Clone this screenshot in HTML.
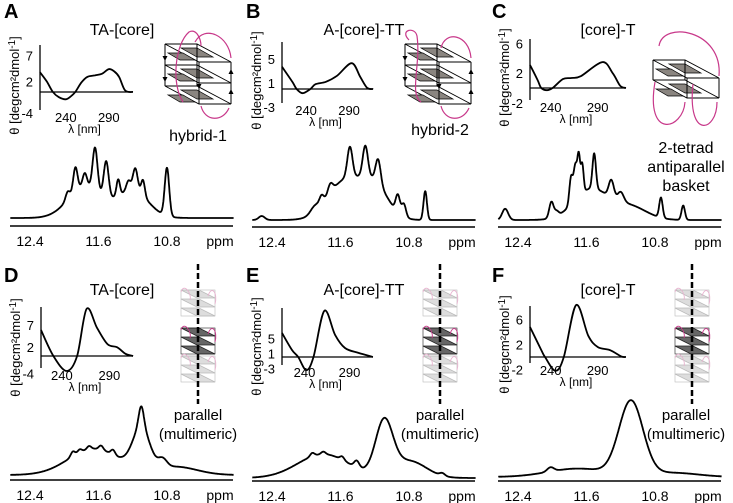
<!DOCTYPE html>
<html><head><meta charset="utf-8"><style>
body{margin:0;background:#fff}
svg{display:block;font-family:"Liberation Sans",Arial,sans-serif}
</style></head><body>
<svg id="fig" width="733" height="503" viewBox="0 0 733 503" xmlns="http://www.w3.org/2000/svg"></svg>
<script>
// ---- CD data (wavelength nm, ellipticity) ----
const cdA_wl = [210,218,225,232,240,246,251,258,265,274,282,290,296,302,309,318];
const cdA_val = [3.8,2,0,-1,-1.4,-0.8,0,1.8,2.9,3.2,3.5,4.4,4,2.9,0.3,0];
const cdB_wl = [212,224,229,236,245,251,263,276,293,303,311,318];
const cdB_val = [3.7,1.2,0,-0.7,0,0.8,1.2,2.2,4.3,2,0.2,0];
const cdC_wl = [218,226,230,236,242,253,262,272,295,306,314,320];
const cdC_val = [3.1,1.1,0,-0.3,0,1.2,1.35,1.6,3.5,2,0.3,0];
const cdD_wl = [218,231,245,256,266,277,288,298,307,315];
const cdD_val = [5.9,0,-3.4,0,10.7,6.4,2.7,2.0,0.5,0];
const cdE_wl = [215,226,233,242,250,262,274,285,300,316];
const cdE_val = [6.4,1.9,0,-3.5,0,12.3,5.9,2.4,1.1,0];
const cdF_wl = [218,230,234,245,254,267,280,290,303,315,320];
const cdF_val = [4.8,1.1,0,-2.2,0,8.3,3.4,1.6,1.1,0.1,0];
// ---- CD tick labels ----
const cdTicksA = [7,2,-4], cdTicksB = [5,1,-3], cdTicksC = [6,2,-2];
const cdTicksD = [7,2,-4], cdTicksE = [5,1,-3], cdTicksF = [6,2,-2];
const cdXTicks = [240,290];
// ---- NMR peaks: [ppm, height, sigma] ----
const nmrA = [[11.75,40,0.2],[11.2,34,0.18],[11.96,10,0.025],[11.87,30,0.025],[11.76,16,0.025],[11.64,52,0.028],[11.51,44,0.028],[11.37,20,0.02],[11.17,28,0.028],[11.08,20,0.022],[10.80,60,0.026],[11.25,12,0.025]];
const nmrB = [[11.55,48,0.2],[11.2,40,0.16],[11.82,10,0.025],[11.72,12,0.03],[11.49,38,0.03],[11.31,38,0.03],[11.16,30,0.03],[10.93,22,0.025],[10.86,16,0.025],[10.61,36,0.02],[12.52,5,0.035],[11.9,8,0.05]];
const nmrC = [[11.55,38,0.2],[11.1,17,0.2],[12.55,14,0.035],[12.01,20,0.025],[11.95,6,0.025],[11.78,34,0.02],[11.73,42,0.02],[11.69,48,0.016],[11.65,36,0.016],[11.51,44,0.02],[11.31,22,0.03],[11.2,12,0.035],[10.73,25,0.02],[10.47,18,0.02]];
const nmrD = [[11.65,32,0.3],[11.1,50,0.1],[11.1,25,0.03],[10.85,10,0.05],[10.7,10,0.25],[11.9,6,0.025],[11.82,4,0.025],[11.71,4,0.025],[11.57,5,0.025],[11.43,6,0.025]];
const nmrE = [[11.8,28,0.3],[11.09,62,0.1],[10.8,20,0.2],[11.41,8,0.03],[11.58,4,0.025],[11.8,3,0.025],[11.93,4,0.025],[10.41,3,0.03]];
const nmrF = [[11.08,88,0.14],[11.7,10,0.35],[12.02,5,0.04],[10.6,5,0.3]];
const ppmTicks = [12.4,11.6,10.8];

const panels = [
 {id:'a',L:'A',title:'TA-[core]',ox:0,oy:0,wl:cdA_wl,val:cdA_val,ticks:cdTicksA,ax:40,top:45,bot:110,z:92,k:5.2,l0:210,ls:0.86,zend:133,nmr:nmrA,base:218,sc:0.8,axY:226,struct:'hybrid1'},
 {id:'b',L:'B',title:'A-[core]-TT',ox:242,oy:0,wl:cdB_wl,val:cdB_val,ticks:cdTicksB,ax:40,top:42,bot:103,z:89,k:6,l0:212,ls:0.86,zend:131,nmr:nmrB,base:220,sc:0.8,axY:227,struct:'hybrid2'},
 {id:'c',L:'C',title:'[core]-T',ox:488,oy:0,wl:cdC_wl,val:cdC_val,ticks:cdTicksC,ax:42,top:39,bot:100,z:88,k:7.4,l0:218,ls:0.94,zend:138,nmr:nmrC,base:220,sc:0.8,axY:227,struct:'basket'},
 {id:'d',L:'D',title:'TA-[core]',ox:0,oy:250,wl:cdD_wl,val:cdD_val,ticks:cdTicksD,ax:41,top:57,bot:118,z:106,k:4.4,l0:218,ls:0.95,zend:133,nmr:nmrD,base:225,sc:0.82,axY:230,struct:'parallel'},
 {id:'e',L:'E',title:'A-[core]-TT',ox:242,oy:250,wl:cdE_wl,val:cdE_val,ticks:cdTicksE,ax:40,top:58,bot:115,z:107,k:3.75,l0:215,ls:0.9,zend:131,nmr:nmrE,base:228,sc:0.85,axY:231,struct:'parallel'},
 {id:'f',L:'F',title:'[core]-T',ox:488,oy:250,wl:cdF_wl,val:cdF_val,ticks:cdTicksF,ax:42,top:56,bot:113,z:107,k:6.25,l0:218,ls:0.94,zend:138,nmr:nmrF,base:227,sc:0.84,axY:231,struct:'parallel'}
];
const NS='http://www.w3.org/2000/svg';
const svg=document.getElementById('fig');
function mk(tag,attrs,parent,txt){const e=document.createElementNS(NS,tag);for(const a in attrs)e.setAttribute(a,attrs[a]);if(txt!==undefined)e.textContent=txt;(parent||svg).appendChild(e);return e;}
function smooth(pts){let d='M'+pts[0][0].toFixed(1)+','+pts[0][1].toFixed(1);for(let i=0;i<pts.length-1;i++){const p0=pts[Math.max(0,i-1)],p1=pts[i],p2=pts[i+1],p3=pts[Math.min(pts.length-1,i+2)];const c1=[p1[0]+(p2[0]-p0[0])/6,p1[1]+(p2[1]-p0[1])/6],c2=[p2[0]-(p3[0]-p1[0])/6,p2[1]-(p3[1]-p1[1])/6];d+=' C'+c1[0].toFixed(1)+','+c1[1].toFixed(1)+' '+c2[0].toFixed(1)+','+c2[1].toFixed(1)+' '+p2[0].toFixed(1)+','+p2[1].toFixed(1);}return d;}
const MAG='#c8388a';
function hybrid(g,x0,y0,variant){
  for(let i=0;i<3;i++){const y=y0+i*21;
    mk('polygon',{points:`${x0},${y} ${x0+32},${y} ${x0+66},${y+18} ${x0+34},${y+18}`,fill:'#fff',stroke:'#000','stroke-width':0.9},g);
    mk('polygon',{points:`${x0+16},${y+4} ${x0+32},${y+4} ${x0+48},${y+13} ${x0+32},${y+13}`,fill:'#8a8580',stroke:'#000','stroke-width':0.7},g);
    mk('polygon',{points:`${x0+3},${y+9} ${x0+18},${y+9} ${x0+30},${y+16} ${x0+15},${y+16}`,fill:'#8a8580',stroke:'#000','stroke-width':0.7},g);
  }
  [[x0,y0,x0,y0+42],[x0+66,y0+18,x0+66,y0+60],[x0+34,y0+18,x0+34,y0+60],[x0+32,y0,x0+32,y0+42]].forEach(l=>mk('line',{x1:l[0],y1:l[1],x2:l[2],y2:l[3],stroke:'#000','stroke-width':1},g));
  [[x0,y0+12,1],[x0,y0+33,1],[x0+66,y0+30,-1],[x0+66,y0+50,-1],[x0+34,y0+40,1]].forEach(a=>mk('polygon',{points:`${a[0]-2.5},${a[1]} ${a[0]+2.5},${a[1]} ${a[0]},${a[1]+5*a[2]}`,fill:'#000'},g));
  if(variant==1){
    mk('path',{d:`M${x0+30},${y0-2} C${x0+40},${y0-20} ${x0+64},${y0-8} ${x0+66},${y0+14}`,fill:'none',stroke:MAG,'stroke-width':1.2},g);
    mk('path',{d:`M${x0+18},${y0+58} C${x0+6},${y0+40} ${x0+10},${y0} ${x0+24},${y0-12} C${x0+32},${y0-16} ${x0+36},${y0-4} ${x0+36},${y0+2}`,fill:'none',stroke:MAG,'stroke-width':1.2},g);
  } else {
    mk('path',{d:`M${x0+4},${y0-4} C${x0-6},${y0-14} ${x0+10},${y0-18} ${x0+12},${y0-8} C${x0+16},${y0+20} ${x0+4},${y0+50} ${x0+16},${y0+58}`,fill:'none',stroke:MAG,'stroke-width':1.2},g);
    mk('path',{d:`M${x0+36},${y0+4} C${x0+40},${y0-14} ${x0+64},${y0-10} ${x0+66},${y0+14}`,fill:'none',stroke:MAG,'stroke-width':1.2},g);
  }
  mk('path',{d:`M${x0+36},${y0+62} C${x0+40},${y0+78} ${x0+58},${y0+78} ${x0+64},${y0+64}`,fill:'none',stroke:MAG,'stroke-width':1.2},g);
}
function basket(g,x0,y0){
  for(let i=0;i<2;i++){const y=y0+i*20;
    mk('polygon',{points:`${x0},${y} ${x0+32},${y} ${x0+66},${y+18} ${x0+34},${y+18}`,fill:'#fff',stroke:'#000','stroke-width':0.9},g);
    mk('polygon',{points:`${x0+16},${y+4} ${x0+32},${y+4} ${x0+48},${y+13} ${x0+32},${y+13}`,fill:'#8a8580',stroke:'#000','stroke-width':0.7},g);
    mk('polygon',{points:`${x0+3},${y+9} ${x0+18},${y+9} ${x0+30},${y+16} ${x0+15},${y+16}`,fill:'#8a8580',stroke:'#000','stroke-width':0.7},g);
  }
  [[x0,y0,x0,y0+20],[x0+66,y0+18,x0+66,y0+38],[x0+34,y0+18,x0+34,y0+38],[x0+32,y0,x0+32,y0+20]].forEach(l=>mk('line',{x1:l[0],y1:l[1],x2:l[2],y2:l[3],stroke:'#000','stroke-width':1},g));
  mk('path',{d:`M${x0+66},${y0+16} C${x0+70},${y0-30} ${x0+10},${y0-40} ${x0+6},${y0-14}`,fill:'none',stroke:MAG,'stroke-width':1.2},g);
  mk('path',{d:`M${x0+2},${y0+22} C${x0-8},${y0+80} ${x0+30},${y0+70} ${x0+32},${y0+42}`,fill:'none',stroke:MAG,'stroke-width':1.2},g);
  mk('path',{d:`M${x0+40},${y0+24} C${x0+34},${y0+80} ${x0+64},${y0+72} ${x0+64},${y0+42}`,fill:'none',stroke:MAG,'stroke-width':1.2},g);
}
function parallel(g,cx,y0){
  const blocks=[[y0+8,'#bbb','#ddd'],[y0+46,'#222','#666'],[y0+74,'#bbb','#ddd']];
  blocks.forEach((b,bi)=>{for(let i=0;i<3;i++){const y=b[0]+i*9;const x=cx-17;
    mk('polygon',{points:`${x},${y} ${x+18},${y} ${x+34},${y+8} ${x+16},${y+8}`,fill:b[2],stroke:b[1],'stroke-width':0.8},g);}
    mk('rect',{x:cx-17,y:b[0],width:34,height:26,fill:'none',stroke:b[1],'stroke-width':0.6},g);
    mk('path',{d:`M${cx-17},${b[0]+2} C${cx-14},${b[0]-8} ${cx-6},${b[0]+4} ${cx-8},${b[0]+10} M${cx+10},${b[0]+6} C${cx+14},${b[0]-6} ${cx+20},${b[0]+4} ${cx+17},${b[0]+14}`,fill:'none',stroke:bi==1?MAG:'#e7b3cf','stroke-width':0.9},g);
  });
  mk('line',{x1:cx,y1:y0-18,x2:cx,y2:y0+122,stroke:'#000','stroke-width':2.5,'stroke-dasharray':'6,3'},g);
}
panels.forEach(p=>{
  const g=mk('g',{transform:`translate(${p.ox},${p.oy})`});
  
  
  const lab=mk('text',{x:4,y:p.oy?32:18,'font-size':20,'font-weight':'bold'},g,p.L);
  
  
  const tt=mk('text',{x:p.id=='c'||p.id=='f'?120:122,y:p.oy?45:35,'font-size':16,'text-anchor':'middle'},g,p.title);
  
  
  const cd=mk('g',{},g);
  
  
  const xs=l=>p.ax+(l-p.l0)*p.ls, ys=v=>p.z-v*p.k;
  mk('line',{x1:p.ax,y1:p.top,x2:p.ax,y2:p.bot,stroke:'#000','stroke-width':1.3},cd);
  mk('line',{x1:p.ax,y1:p.z,x2:p.zend,y2:p.z,stroke:'#000','stroke-width':1.2},cd);
  p.ticks.forEach(t=>{const e=mk('text',{x:p.ax-7,y:ys(t)+5,'font-size':13,'text-anchor':'end'},cd,t);});
  cdXTicks.forEach(t=>{const e=mk('text',{x:xs(t),y:p.bot+12,'font-size':13,'text-anchor':'middle'},cd,t);});
  const xl=mk('text',{x:(p.ax+p.zend)/2-2,y:p.bot+23,'font-size':12,'text-anchor':'middle'},cd,'λ [nm]');
  
  
  const ycy=(p.top+p.bot)/2+(p.oy?10:8);
  const yt=mk('text',{x:0,y:0,'font-size':13,'text-anchor':'middle',transform:`translate(${p.ax-21},${ycy}) rotate(-90)`},cd);
  
  
  mk('tspan',{},yt,'θ [degcm²dmol');
  mk('tspan',{'font-size':10,dy:-4},yt,'-1');
  mk('tspan',{dy:4},yt,']');
  const pts=p.wl.map((l,i)=>[xs(l),ys(p.val[i])]);
  const cl=mk('path',{d:smooth(pts),fill:'none',stroke:'#000','stroke-width':1.8},cd);
  
  
  const nm=mk('g',{},g);
  
  
  const px=ppm=>30+(12.4-ppm)*85.6;
  let d='';
  for(let ppm=12.63;ppm>=10.02;ppm-=0.004){let I=0;p.nmr.forEach(pk=>{I+=pk[1]*Math.exp(-Math.pow(ppm-pk[0],2)/(2*pk[2]*pk[2]));});d+=(d?'L':'M')+px(ppm).toFixed(1)+','+(p.base-I*p.sc).toFixed(1);}
  const sp=mk('path',{d:d,fill:'none',stroke:'#000','stroke-width':1.8,'stroke-linejoin':'round'},nm);
  
  
  mk('line',{x1:10,y1:p.axY,x2:233,y2:p.axY,stroke:'#000','stroke-width':1.6},nm);
  ppmTicks.forEach(t=>{const e=mk('text',{x:px(t),y:p.axY+20,'font-size':14,'text-anchor':'middle'},nm,t.toFixed(1));});
  const pl=mk('text',{x:220,y:p.axY+20,'font-size':14,'text-anchor':'middle'},nm,'ppm');
  
  
  const st=mk('g',{},g);
  
  
  const lbl=(lines,y0)=>lines.forEach((s,i)=>mk('text',{x:198,y:y0+i*19,'font-size':p.struct=='parallel'?15:16,'text-anchor':'middle'},st,s));
  if(p.struct=='hybrid1'){hybrid(st,165,44,1);lbl(['hybrid-1'],141);}
  if(p.struct=='hybrid2'){hybrid(st,163,44,2);lbl(['hybrid-2'],135);}
  if(p.struct=='basket'){basket(st,165,60);lbl(['2-tetrad','antiparallel','basket'],153);}
  if(p.struct=='parallel'){parallel(st,p.id=='f'?204:198,32);lbl(['parallel','(multimeric)'],170);}
});
</script>
</body></html>
